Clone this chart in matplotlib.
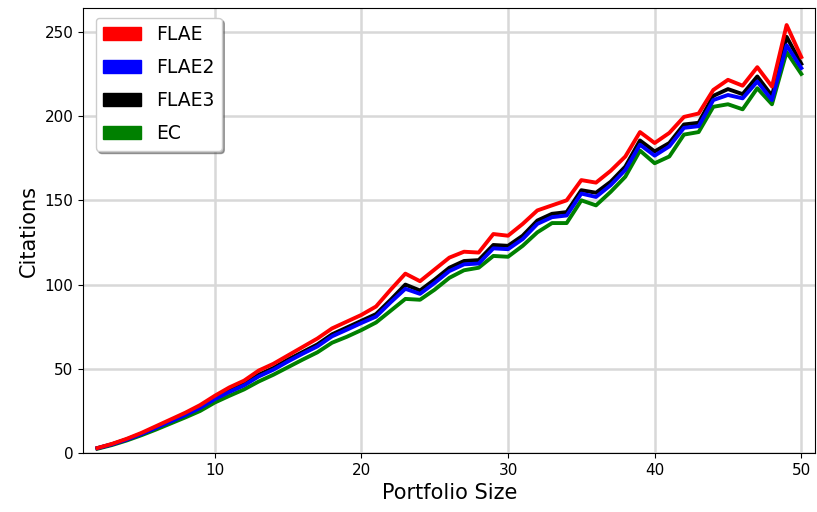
import matplotlib
matplotlib.use("Agg")
import matplotlib.pyplot as plt
import matplotlib.patches as mpatches

# tamaño del portafolio (2..50)
portfolio_size = list(range(2, 51))

flae = [3, 5.5, 8.5, 12, 16, 20, 24, 28.5, 34, 39, 43, 49, 53, 58, 63, 68, 74, 78, 82, 87,
        97, 106.5, 102, 109, 116, 119.5, 119, 130, 129, 136, 144, 147, 150, 162, 160.5, 167.5,
        176, 190.5, 184, 190, 199.5, 201.5, 215.5, 221.5, 218, 229, 217.5, 254, 235]

flae2 = [2.9, 5.2, 8, 11.3, 15, 18.8, 22.6, 26.8, 32, 36.3, 40.2, 45.5, 49.5, 54.4, 59, 63.3,
         69.3, 73.2, 77.2, 81, 89.5, 97.5, 94.5, 101, 108, 112, 112.5, 121.5, 121, 127, 136,
         140, 141, 154, 152, 159, 168, 183, 176.5, 182, 193, 194, 209.5, 212.5, 210.5, 220.5,
         209.5, 242, 228.5]

flae3 = [3, 5.3, 8.2, 11.5, 15.3, 19.2, 23, 27.3, 32.5, 37, 41, 46.5, 50.5, 55.5, 60, 64.5,
         70.5, 74.5, 78.5, 82.5, 91, 100, 96.5, 103, 110, 114, 114.5, 123.5, 123, 129, 138,
         142, 143, 156, 154.5, 161, 170, 185.5, 179, 184, 195, 196, 212, 216, 213, 223.5,
         212, 247, 231]

ec = [2.6, 4.8, 7.5, 10.6, 14, 17.6, 21.2, 25, 30, 34, 37.8, 42.5, 46.5, 51, 55.5, 59.8,
      65.5, 69, 73, 77.5, 84.5, 91.5, 91, 97, 104, 108.5, 110, 117, 116.5, 123, 131, 136.5,
      136.5, 150, 147, 155, 164, 179.5, 172, 176, 189, 190.5, 205.5, 207, 204, 216.5, 207,
      238, 225]

series = [("FLAE", flae, "red"), ("FLAE2", flae2, "blue"),
          ("FLAE3", flae3, "black"), ("EC", ec, "green")]

fig = plt.figure(figsize=(8.17, 5.12), dpi=100)
ax = fig.add_axes([0.102, 0.115, 0.896, 0.869])

# EC abajo, FLAE encima
for nombre, valores, color in reversed(series):
    ax.plot(portfolio_size, valores, color=color, linewidth=2.8)

ax.grid(True, color="#d8d8d8", linewidth=1.8)
ax.set_axisbelow(True)
ax.set_xlim(1.04, 50.96)
ax.set_ylim(0, 264)
ax.set_xticks([10, 20, 30, 40, 50])
ax.set_yticks([0, 50, 100, 150, 200, 250])
ax.tick_params(labelsize=11)
ax.set_xlabel("Portfolio Size", fontsize=15)
ax.set_ylabel("Citations", fontsize=15)

handles = [mpatches.Patch(color=c, label=n) for n, v, c in series]
ax.legend(handles=handles, loc="upper left", fontsize=13.5, shadow=True, fancybox=True,
          framealpha=1, labelspacing=0.75, bbox_to_anchor=(0.004, 1.0))

fig.savefig("out.png", dpi=100)
